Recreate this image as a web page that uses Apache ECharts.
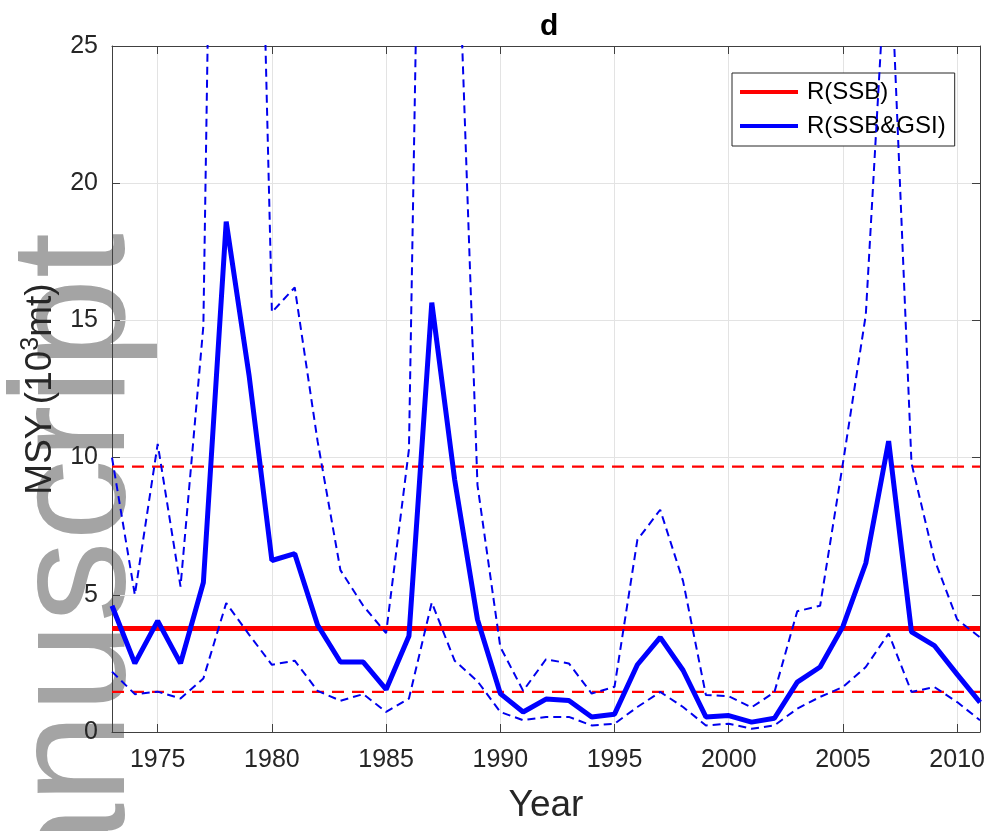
<!DOCTYPE html>
<html>
<head>
<meta charset="utf-8">
<title>MSY d</title>
<script src="https://cdn.jsdelivr.net/npm/echarts@6/dist/echarts.min.js"></script>
<style>
  html, body { margin: 0; padding: 0; background: #fff; }
  #chart { width: 991px; height: 831px; }
</style>
</head>
<body>
<div id="chart"></div>
<script>
/* ========================================
   MSY by year — R(SSB) vs R(SSB&GSI)
   ======================================== */

const years = [1973, 1974, 1975, 1976, 1977, 1978, 1979, 1980, 1981, 1982,
  1983, 1984, 1985, 1986, 1987, 1988, 1989, 1990, 1991, 1992,
  1993, 1994, 1995, 1996, 1997, 1998, 1999, 2000, 2001, 2002,
  2003, 2004, 2005, 2006, 2007, 2008, 2009, 2010, 2011];

// R(SSB&GSI) estimate and its bounds (10^3 mt)
const msyGsi = [4.6, 2.5, 4.05, 2.5, 5.45, 18.6, 13.0, 6.25, 6.5, 3.9,
  2.55, 2.55, 1.55, 3.5, 15.65, 9.2, 4.1, 1.4, 0.73, 1.2,
  1.15, 0.55, 0.65, 2.45, 3.45, 2.25, 0.55, 0.6, 0.36, 0.5,
  1.82, 2.37, 3.85, 6.15, 10.6, 3.65, 3.15, 2.1, 1.08];
const gsiUpper = [10.0, 5.0, 10.5, 5.3, 14.8, 70, 50, 15.3, 16.2, 10.6,
  5.9, 4.6, 3.6, 10.3, 60, 33, 9.0, 3.1, 1.5, 2.65,
  2.5, 1.4, 1.65, 7.0, 8.1, 5.5, 1.35, 1.3, 0.9, 1.45,
  4.4, 4.6, 9.8, 15.2, 30, 9.8, 6.3, 4.1, 3.45];
const gsiLower = [2.2, 1.38, 1.47, 1.22, 1.95, 4.7, 3.55, 2.45, 2.6, 1.5,
  1.14, 1.38, 0.73, 1.22, 4.72, 2.6, 1.85, 0.73, 0.43, 0.55,
  0.55, 0.24, 0.3, 0.91, 1.46, 0.91, 0.24, 0.3, 0.12, 0.24,
  0.85, 1.28, 1.64, 2.37, 3.59, 1.46, 1.64, 1.09, 0.43];

// R(SSB) constant estimate and bounds
const ssbMean = 3.77;
const ssbUpper = 9.67;
const ssbLower = 1.46;

const xTicks = [1975, 1980, 1985, 1990, 1995, 2000, 2005, 2010];

const TXT = '#262626';
const AX = '#404040';
const FONT = '"Liberation Sans", Arial, sans-serif';

function pairs(vals) {
  return years.map(function(y, i) { return [y, vals[i]]; });
}
function flat(v) {
  return years.map(function(y) { return [y, v]; });
}

const chart = echarts.init(document.getElementById('chart'), null, { renderer: 'canvas' });

const baseX = {
  type: 'value', min: 1973, max: 2011,
  axisLine: { show: true, onZero: false, lineStyle: { color: AX, width: 1 } },
  axisTick: { show: true, inside: true, length: 8, customValues: xTicks, lineStyle: { color: AX } },
  axisLabel: { show: false, customValues: xTicks },
  splitLine: { show: false }
};
const baseY = {
  type: 'value', min: 0, max: 25, interval: 5,
  axisLine: { show: true, lineStyle: { color: AX, width: 1 } },
  axisTick: { show: true, inside: true, length: 8, lineStyle: { color: AX } },
  axisLabel: { show: false },
  splitLine: { show: false }
};

const option = {
  backgroundColor: '#fff',
  animation: false,
  textStyle: { fontFamily: FONT },
  title: {
    text: 'd',
    left: 535,
    top: 7,
    textStyle: { fontSize: 30, fontWeight: 'bold', color: '#000', fontFamily: FONT }
  },
  graphic: [{
    type: 'text',
    z: -10,
    x: 79,
    y: 233,
    rotation: Math.PI / 2,
    style: {
      text: 'manuscript',
      font: '163px "Liberation Sans", Arial, sans-serif',
      fill: '#a4a4a4',
      textAlign: 'right',
      textVerticalAlign: 'middle'
    }
  }],
  legend: {
    data: ['R(SSB)', 'R(SSB&GSI)'],
    orient: 'vertical',
    left: 732,
    top: 73,
    padding: [6, 9, 7, 8],
    itemGap: 8,
    icon: 'rect',
    itemWidth: 58,
    itemHeight: 4,
    selectedMode: false,
    backgroundColor: '#fff',
    borderColor: TXT,
    borderWidth: 1,
    textStyle: { fontSize: 24, color: '#000', lineHeight: 26, padding: [0, 0, 0, 4], fontFamily: FONT }
  },
  grid: { left: 112, right: 11, top: 46, bottom: 99, containLabel: false },
  xAxis: [
    Object.assign({}, baseX, {
      position: 'bottom',
      axisLabel: {
        show: true, customValues: xTicks, fontSize: 25, color: TXT, margin: 16, fontFamily: FONT,
        formatter: function(v) { return String(v); }
      },
      splitLine: { show: true, lineStyle: { color: '#e3e3e3', width: 1 } },
      name: 'Year',
      nameLocation: 'middle',
      nameGap: 55,
      nameTextStyle: { fontSize: 37, color: TXT, fontFamily: FONT }
    }),
    Object.assign({}, baseX, { position: 'top' })
  ],
  yAxis: [
    Object.assign({}, baseY, {
      position: 'left',
      axisLabel: { show: true, fontSize: 25, color: TXT, margin: 14, fontFamily: FONT },
      splitLine: { show: true, lineStyle: { color: '#e3e3e3', width: 1 } },
      name: '{a|MSY (10}{s|3}{a|mt)}',
      nameLocation: 'middle',
      nameGap: 48,
      nameTextStyle: {
        color: TXT,
        fontFamily: FONT,
        rich: {
          a: { fontSize: 37, color: TXT, fontFamily: FONT, verticalAlign: 'bottom' },
          s: { fontSize: 25, color: TXT, fontFamily: FONT, verticalAlign: 'bottom', padding: [0, 0, 16, 0] }
        }
      }
    }),
    Object.assign({}, baseY, { position: 'right' })
  ],
  series: [
    {
      name: 'R(SSB)', type: 'line', data: flat(ssbMean), symbol: 'none', color: '#ff0000',
      lineStyle: { color: '#ff0000', width: 5 }, z: 3
    },
    {
      name: 'ssbUpper', type: 'line', data: flat(ssbUpper), symbol: 'none', color: '#ff0000',
      lineStyle: { color: '#ff0000', width: 2.2, type: [12, 8] }, z: 3
    },
    {
      name: 'ssbLower', type: 'line', data: flat(ssbLower), symbol: 'none', color: '#ff0000',
      lineStyle: { color: '#ff0000', width: 2.2, type: [12, 8] }, z: 3
    },
    {
      name: 'gsiUpper', type: 'line', data: pairs(gsiUpper), symbol: 'none', color: '#0000ff',
      lineStyle: { color: '#0000ee', width: 2, type: [8, 5] }, z: 4
    },
    {
      name: 'gsiLower', type: 'line', data: pairs(gsiLower), symbol: 'none', color: '#0000ff',
      lineStyle: { color: '#0000ee', width: 2, type: [8, 5] }, z: 4
    },
    {
      name: 'R(SSB&GSI)', type: 'line', data: pairs(msyGsi), symbol: 'none', color: '#0000ff',
      lineStyle: { color: '#0000ff', width: 5 }, z: 5
    }
  ]
};

chart.setOption(option);
</script>
</body>
</html>
